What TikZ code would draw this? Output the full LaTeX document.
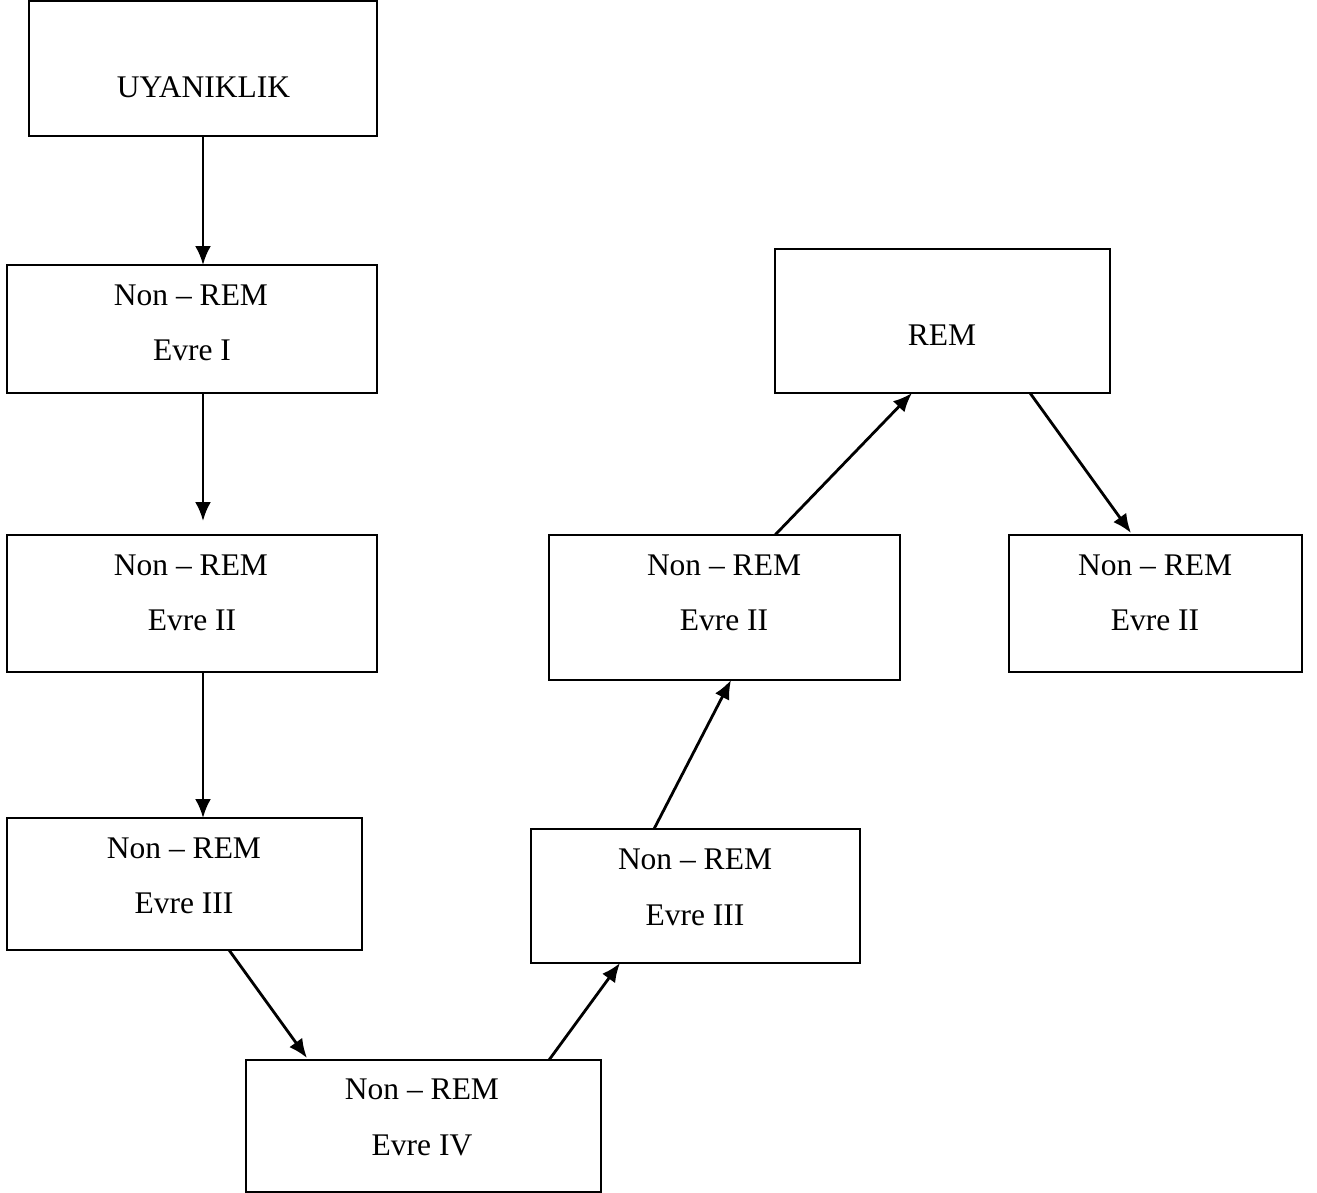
\documentclass[tikz,border=0pt]{standalone}
\usepackage{fontspec}
\setmainfont{Liberation Serif}
\usetikzlibrary{arrows.meta}
\begin{document}
\begin{tikzpicture}[x=1pt,y=-1pt,
  box/.style={draw=black,line width=1.5pt,inner sep=0pt,outer sep=0pt},
  lbl/.style={anchor=base,inner sep=0pt,font=\fontsize{31.5}{38}\selectfont},
  arr/.style={line width=2.8pt,-{Latex[length=19pt,width=16pt]}}]
\useasboundingbox (0,0) rectangle (1317,1193);
% boxes
\node[box,minimum width=348pt,minimum height=135pt] (b1) at (203,68.5) {};
\node[box,minimum width=370pt,minimum height=128pt] (b2) at (192,329) {};
\node[box,minimum width=370pt,minimum height=137pt] (b3) at (192,603.5) {};
\node[box,minimum width=355pt,minimum height=132pt] (b4) at (184.5,884) {};
\node[box,minimum width=355pt,minimum height=132pt] (b5) at (423.5,1126) {};
\node[box,minimum width=329pt,minimum height=134pt] (b6) at (695.5,896) {};
\node[box,minimum width=351pt,minimum height=145pt] (b7) at (724.5,607.5) {};
\node[box,minimum width=335pt,minimum height=144pt] (b8) at (942.5,321) {};
\node[box,minimum width=293pt,minimum height=137pt] (b9) at (1155.5,603.5) {};
% texts
\node[lbl] (t1) at (203.5,98) {UYANIKLIK};
\node[lbl] (t2a) at (191,305) {Non – REM};
\node[lbl] (t2b) at (192,360) {Evre I};
\node[lbl] (t3a) at (191,575) {Non – REM};
\node[lbl] (t3b) at (192,630) {Evre II};
\node[lbl] (t4a) at (184,858) {Non – REM};
\node[lbl] (t4b) at (184,913) {Evre III};
\node[lbl] (t5a) at (422,1099) {Non – REM};
\node[lbl] (t5b) at (422,1155) {Evre IV};
\node[lbl] (t6a) at (695,869) {Non – REM};
\node[lbl] (t6b) at (695,925) {Evre III};
\node[lbl] (t7a) at (724,575) {Non – REM};
\node[lbl] (t7b) at (724,630) {Evre II};
\node[lbl] (t8) at (942,345) {REM};
\node[lbl] (t9a) at (1155,575) {Non – REM};
\node[lbl] (t9b) at (1155,630) {Evre II};
% arrows
\draw[arr] (b1.south) -- ([xshift=11pt]b2.north);
\draw[arr] ([xshift=11pt]b2.south) -- ([xshift=11pt,yshift=14pt]b3.north);
\draw[arr] ([xshift=11pt]b3.south) -- ([xshift=18.5pt]b4.north);
\draw[arr] ([xshift=44.5pt]b4.south) -- ([xshift=-116.5pt,yshift=2pt]b5.north);
\draw[arr] ([xshift=125.5pt]b5.north) -- ([xshift=-75.5pt]b6.south);
\draw[arr] ([xshift=-41.5pt]b6.north) -- ([xshift=6.5pt]b7.south);
\draw[arr] ([xshift=50.5pt]b7.north) -- ([xshift=-30.5pt]b8.south);
\draw[arr] ([xshift=87.5pt]b8.south) -- ([xshift=-24.5pt,yshift=2pt]b9.north);
\end{tikzpicture}
\end{document}
